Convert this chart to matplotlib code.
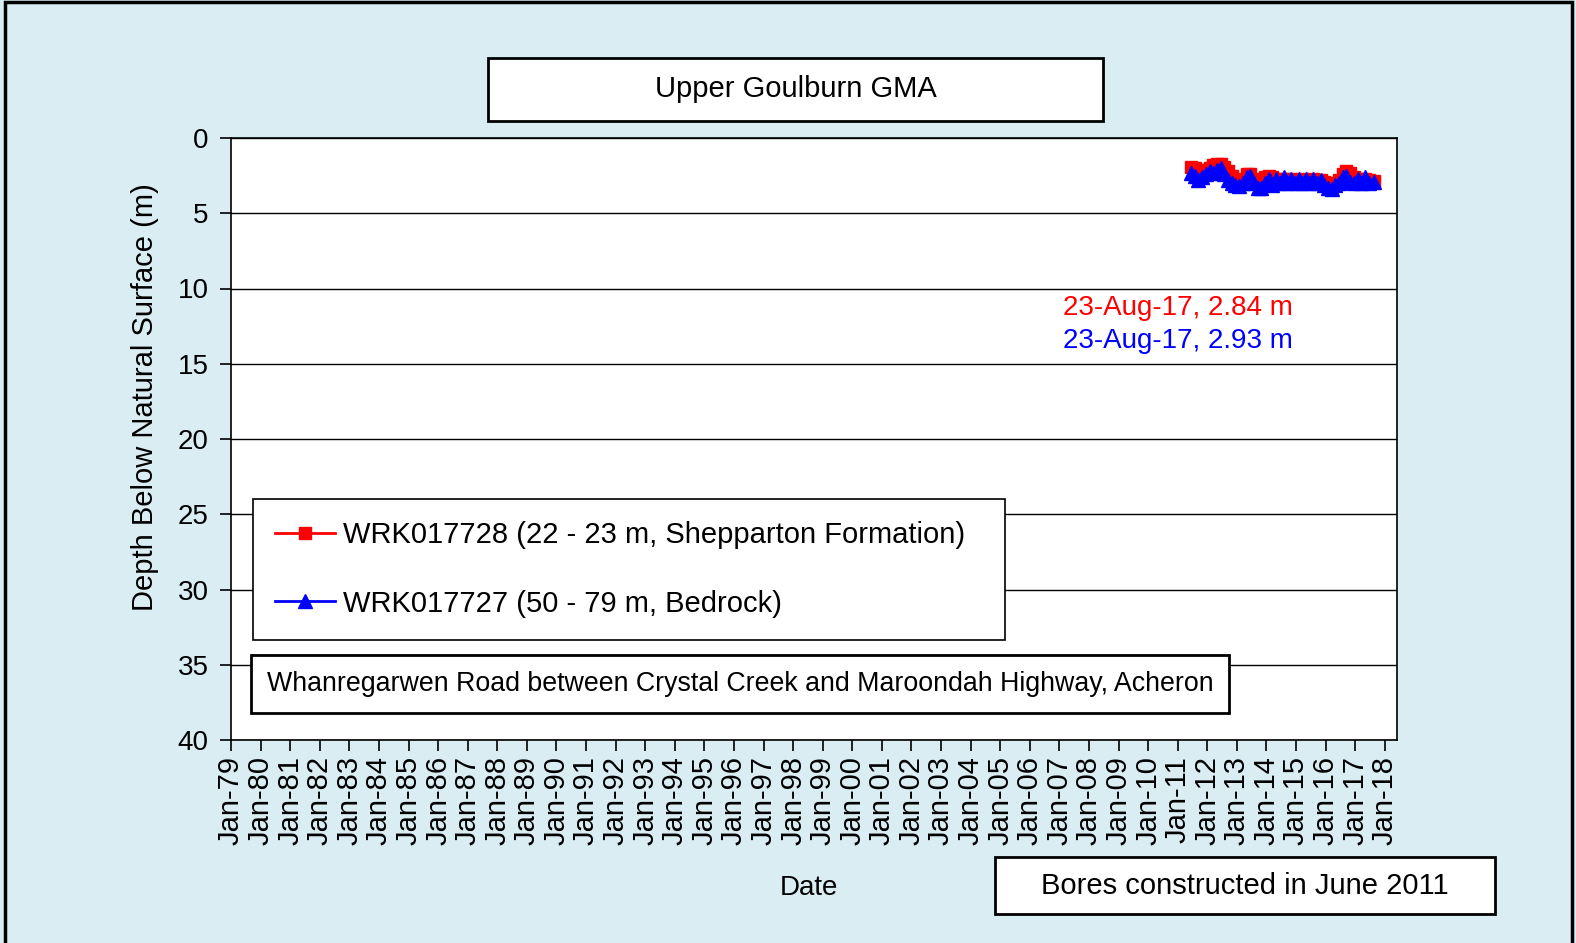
"""Groundwater depth hydrograph, Upper Goulburn GMA (WRK017728 / WRK017727)."""
import matplotlib

matplotlib.use("Agg")
import matplotlib.dates as mdates
import matplotlib.pyplot as plt
import pandas as pd
from matplotlib.patches import Rectangle

plt.rcParams["font.family"] = ["Liberation Sans", "DejaVu Sans"]

BG = "#daedf3"
RED = "#ff0000"
BLUE = "#0000ff"

# readings (depth below natural surface, m)
dates = [
    "2011-06-15", "2011-08-01", "2011-09-15", "2011-11-01", "2011-12-15",
    "2012-02-01", "2012-03-15", "2012-05-01", "2012-06-15", "2012-08-01",
    "2012-09-15", "2012-11-01", "2012-12-15", "2013-02-01", "2013-03-15",
    "2013-05-01", "2013-06-15", "2013-08-01", "2013-09-15", "2013-11-01",
    "2013-12-15", "2014-02-01", "2014-03-15", "2014-05-01", "2014-06-15",
    "2014-08-01", "2014-09-15", "2014-11-01", "2014-12-15", "2015-02-01",
    "2015-03-15", "2015-05-01", "2015-06-15", "2015-08-01", "2015-09-15",
    "2015-11-01", "2015-12-15", "2016-02-01", "2016-03-15", "2016-05-01",
    "2016-06-15", "2016-08-01", "2016-09-15", "2016-11-01", "2016-12-15",
    "2017-02-01", "2017-03-15", "2017-05-01", "2017-06-15", "2017-08-23",
]
wrk017728 = [
    1.9, 2.0, 2.1, 2.2, 2.1, 2.0, 1.8, 1.7, 1.7, 1.9,
    2.2, 2.5, 2.8, 3.0, 2.7, 2.4, 2.4, 2.7, 3.0, 3.0,
    2.6, 2.5, 2.6, 2.8, 2.7, 2.7, 2.8, 2.7, 2.8, 2.8,
    2.7, 2.8, 2.8, 2.7, 2.8, 2.8, 2.9, 3.0, 3.2, 3.1,
    2.8, 2.4, 2.2, 2.3, 2.6, 2.7, 2.8, 2.7, 2.8, 2.84,
]
wrk017727 = [
    2.3, 2.5, 2.8, 2.6, 2.4, 2.2, 2.3, 2.1, 2.0, 2.4,
    2.8, 3.0, 3.1, 3.2, 3.0, 2.6, 2.5, 3.0, 3.3, 3.3,
    3.0, 2.7, 3.1, 2.7, 3.0, 2.6, 3.0, 2.7, 3.0, 2.7,
    3.0, 2.7, 3.0, 2.7, 3.0, 2.8, 3.1, 3.3, 3.4, 3.1,
    3.0, 2.6, 2.5, 2.9, 3.0, 2.7, 3.0, 2.6, 3.0, 2.93,
]
label_728 = "WRK017728 (22 - 23 m, Shepparton Formation)"
label_727 = "WRK017727 (50 - 79 m, Bedrock)"
last_728 = "23-Aug-17, 2.84 m"
last_727 = "23-Aug-17, 2.93 m"
tick_years = list(range(1979, 2019))

W, H = 1576, 943


def fx(px):
    return px / W


def fy(py):
    return 1 - py / H


def boxed_text(fig, x0, y0, x1, y1, text, size):
    fig.patches.append(Rectangle((fx(x0), fy(y1)), fx(x1 - x0), (y1 - y0) / H,
                                 transform=fig.transFigure, facecolor="white",
                                 edgecolor="black", linewidth=2, zorder=5))
    fig.text(fx((x0 + x1) / 2), fy((y0 + y1) / 2), text, ha="center", va="center",
             fontsize=size, color="black", zorder=6)


def main() -> None:
    t = pd.to_datetime(dates)
    fig = plt.figure(figsize=(W / 100, H / 100), dpi=100, facecolor=BG)
    ax = fig.add_axes([fx(231), fy(740), fx(1397 - 231), (740 - 138) / H])
    ax.set_facecolor("white")

    l1, = ax.plot(t, wrk017728, color=RED, marker="s", markersize=9, linewidth=2,
                  label=label_728, zorder=3)
    l2, = ax.plot(t, wrk017727, color=BLUE, marker="^", markersize=10, linewidth=2,
                  label=label_727, zorder=4)

    ax.set_ylim(40, 0)
    ax.set_yticks(range(0, 41, 5))
    ax.set_xlim(pd.Timestamp("1979-01-01"), pd.Timestamp("2018-06-01"))
    ax.set_xticks([pd.Timestamp(f"{y}-01-01") for y in tick_years])
    ax.xaxis.set_major_formatter(mdates.DateFormatter("%b-%y"))
    ax.tick_params(axis="x", labelrotation=90, labelsize=21, length=8, width=1.2, direction="out")
    ax.tick_params(axis="y", labelsize=20, length=8, width=1.2, direction="out", pad=8)
    ax.yaxis.grid(True, color="black", linewidth=1)
    ax.set_axisbelow(True)
    for spine in ax.spines.values():
        spine.set_color("black")
        spine.set_linewidth(1.2)

    ax.set_ylabel("Depth Below Natural Surface (m)", fontsize=21)
    ax.yaxis.set_label_coords(-0.062, 0.57)
    fig.text(fx(809), fy(888), "Date", ha="center", va="center", fontsize=20)

    ax.text(fx(1063), fy(308), last_728, transform=fig.transFigure, color=RED,
            fontsize=20, ha="left", va="center")
    ax.text(fx(1063), fy(341), last_727, transform=fig.transFigure, color=BLUE,
            fontsize=20, ha="left", va="center")

    leg = ax.legend(handles=[l1, l2], loc="upper left", mode="expand",
                    bbox_to_anchor=(fx(253), fy(635), fx(1005 - 253), (635 - 499) / H),
                    bbox_transform=fig.transFigure, fontsize=21, fancybox=False,
                    framealpha=1, edgecolor="black", borderpad=0.75, labelspacing=1.4,
                    handlelength=2.05, handletextpad=0.3, borderaxespad=0)
    leg.get_frame().set_linewidth(1.2)
    leg.set_zorder(7)

    boxed_text(fig, 488, 58, 1103, 121, "Upper Goulburn GMA", 21)
    boxed_text(fig, 251, 655, 1229, 713,
               "Whanregarwen Road between Crystal Creek and Maroondah Highway, Acheron", 19.3)
    boxed_text(fig, 995, 857, 1495, 914, "Bores constructed in June 2011", 21)

    fig.patches.append(Rectangle((fx(5), fy(945)), fx(1572 - 5), (945 - 2) / H,
                                 transform=fig.transFigure, facecolor="none",
                                 edgecolor="black", linewidth=2.5, zorder=10))

    fig.savefig("out.png", dpi=100, facecolor=BG)
    plt.close(fig)


if __name__ == "__main__":
    main()
